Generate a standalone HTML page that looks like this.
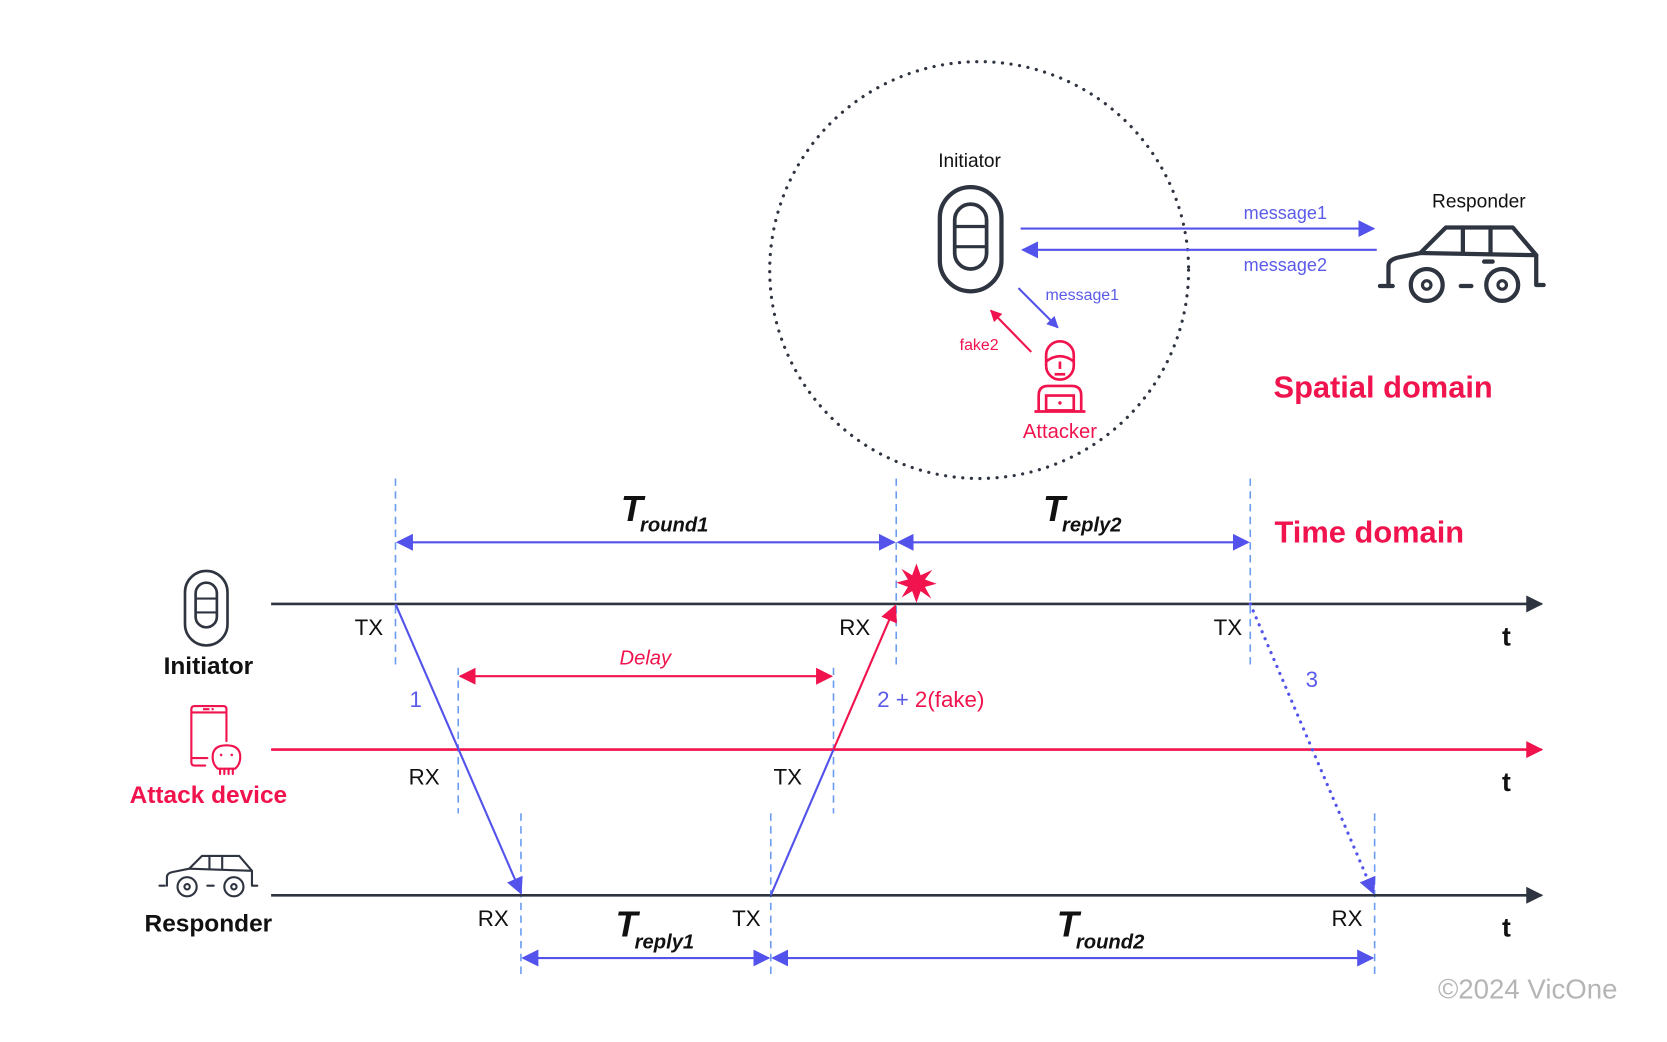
<!DOCTYPE html>
<html><head><meta charset="utf-8"><style>
html,body{margin:0;padding:0;background:#fff;}
svg{display:block;}
text{font-family:"Liberation Sans","DejaVu Sans",sans-serif;}
</style></head><body>
<svg width="1667" height="1042" viewBox="0 0 1568 980" preserveAspectRatio="none" xmlns="http://www.w3.org/2000/svg">
<defs>
<marker id="abL" viewBox="0 0 10 10" refX="9" refY="5" markerWidth="16" markerHeight="16" orient="auto-start-reverse" markerUnits="userSpaceOnUse"><path d="M0,0L10,5L0,10z" fill="#5353ec"/></marker>
<marker id="arL" viewBox="0 0 10 10" refX="9" refY="5" markerWidth="16" markerHeight="16" orient="auto-start-reverse" markerUnits="userSpaceOnUse"><path d="M0,0L10,5L0,10z" fill="#f0134d"/></marker>
<marker id="arS" viewBox="0 0 10 10" refX="9" refY="5" markerWidth="11" markerHeight="11" orient="auto-start-reverse" markerUnits="userSpaceOnUse"><path d="M0,0L10,5L0,10z" fill="#f0134d"/></marker>
<marker id="abS" viewBox="0 0 10 10" refX="9" refY="5" markerWidth="11" markerHeight="11" orient="auto-start-reverse" markerUnits="userSpaceOnUse"><path d="M0,0L10,5L0,10z" fill="#5353ec"/></marker>
<marker id="ak" viewBox="0 0 10 10" refX="9" refY="5" markerWidth="16" markerHeight="16" orient="auto" markerUnits="userSpaceOnUse"><path d="M0,0L10,5L0,10z" fill="#2f3540"/></marker>
</defs>

<ellipse cx="921" cy="254" rx="197" ry="196" fill="none" stroke="#2f3540" stroke-width="3" stroke-dasharray="0.1 8" stroke-linecap="round"/>

<text x="912" y="157" font-size="18" text-anchor="middle" fill="#111">Initiator</text>
<rect x="884" y="176" width="58" height="98" rx="29" fill="none" stroke="#2f3540" stroke-width="4"/>
<rect x="898" y="192" width="30" height="61" rx="15" fill="none" stroke="#2f3540" stroke-width="3.5"/>
<line x1="898" y1="213" x2="928" y2="213" stroke="#2f3540" stroke-width="3"/>
<line x1="898" y1="232" x2="928" y2="232" stroke="#2f3540" stroke-width="3"/>

<line x1="960" y1="215" x2="1292" y2="215" stroke="#5353ec" stroke-width="2" marker-end="url(#abL)"/>
<line x1="1295" y1="235" x2="962" y2="235" stroke="#5353ec" stroke-width="2" marker-end="url(#abL)"/>
<text x="1209" y="206" font-size="17" text-anchor="middle" fill="#5b5bea">message1</text>
<text x="1209" y="255" font-size="17" text-anchor="middle" fill="#5b5bea">message2</text>
<text x="1391" y="195" font-size="18" text-anchor="middle" fill="#111">Responder</text>

<g fill="none" stroke="#2f3540" stroke-width="4" stroke-linecap="round" stroke-linejoin="round">
<path d="M1306,269 L1306,250 Q1306,244 1316,242 L1336,238 L1360,214 L1423,214 L1445,240 L1445,268 L1452,268"/>
<line x1="1376" y1="214" x2="1376" y2="238"/><line x1="1402" y1="214" x2="1402" y2="238"/>
<line x1="1336" y1="238" x2="1445" y2="240"/>
<line x1="1298" y1="269" x2="1310" y2="269"/><line x1="1374" y1="269" x2="1384" y2="269"/>
<circle cx="1342" cy="268" r="15"/><circle cx="1413" cy="268" r="15"/>
<line x1="1396" y1="246" x2="1404" y2="246"/>
</g>
<circle cx="1342" cy="268" r="4" fill="none" stroke="#2f3540" stroke-width="3"/>
<circle cx="1413" cy="268" r="4" fill="none" stroke="#2f3540" stroke-width="3"/>

<line x1="958" y1="271" x2="995" y2="308" stroke="#5353ec" stroke-width="2" marker-end="url(#abS)"/>
<text x="1018" y="282" font-size="15" text-anchor="middle" fill="#5b5bea">message1</text>
<line x1="970" y1="331" x2="932" y2="292" stroke="#f0134d" stroke-width="2" marker-end="url(#arS)"/>
<text x="921" y="329" font-size="15" text-anchor="middle" fill="#f0134d">fake2</text>

<g fill="none" stroke="#f0134d" stroke-width="2.5">
<rect x="984" y="321" width="26" height="36" rx="13"/>
<path d="M984,340 Q997,330 1010,340"/>
<line x1="997" y1="340" x2="997" y2="347"/><line x1="992" y1="352" x2="1002" y2="352"/>
<path d="M977,386 L977,372 Q977,363 986,363 L1008,363 Q1017,363 1017,372 L1017,386"/>
<rect x="984" y="372" width="26" height="14"/>
<line x1="973" y1="387" x2="1021" y2="387"/>
</g>
<circle cx="997" cy="379" r="1.6" fill="#f0134d"/>
<text x="997" y="412" font-size="19" text-anchor="middle" fill="#f0134d">Attacker</text>

<text x="1301" y="374" font-size="29" text-anchor="middle" fill="#f0134d" font-weight="bold">Spatial domain</text>
<text x="1288" y="510" font-size="29" text-anchor="middle" fill="#f0134d" font-weight="bold">Time domain</text>

<g stroke="#6b9cf2" stroke-width="1.5" stroke-dasharray="7 5">
<line x1="372" y1="450" x2="372" y2="628"/>
<line x1="843" y1="450" x2="843" y2="628"/>
<line x1="1176" y1="450" x2="1176" y2="628"/>
<line x1="431" y1="628" x2="431" y2="765"/>
<line x1="784" y1="628" x2="784" y2="765"/>
<line x1="490" y1="765" x2="490" y2="920"/>
<line x1="725" y1="765" x2="725" y2="920"/>
<line x1="1293" y1="765" x2="1293" y2="920"/>
</g>

<line x1="374" y1="510" x2="841" y2="510" stroke="#5353ec" stroke-width="2" marker-start="url(#abL)" marker-end="url(#abL)"/>
<line x1="845" y1="510" x2="1174" y2="510" stroke="#5353ec" stroke-width="2" marker-start="url(#abL)" marker-end="url(#abL)"/>
<line x1="492" y1="901" x2="723" y2="901" stroke="#5353ec" stroke-width="2" marker-start="url(#abL)" marker-end="url(#abL)"/>
<line x1="727" y1="901" x2="1291" y2="901" stroke="#5353ec" stroke-width="2" marker-start="url(#abL)" marker-end="url(#abL)"/>
<g font-style="italic" font-weight="bold" fill="#111">
<text x="584" y="490" font-size="34">T</text><text x="602" y="500" font-size="19">round1</text>
<text x="981" y="490" font-size="34">T</text><text x="999" y="500" font-size="19">reply2</text>
<text x="579" y="881" font-size="34">T</text><text x="597" y="892" font-size="19">reply1</text>
<text x="994" y="881" font-size="34">T</text><text x="1012" y="892" font-size="19">round2</text>
</g>

<line x1="255" y1="568" x2="1450" y2="568" stroke="#2f3540" stroke-width="2.5" marker-end="url(#ak)"/>
<line x1="255" y1="705" x2="1450" y2="705" stroke="#f0134d" stroke-width="2.5" marker-end="url(#arL)"/>
<line x1="255" y1="842" x2="1450" y2="842" stroke="#2f3540" stroke-width="2.5" marker-end="url(#ak)"/>
<g font-size="25" font-weight="bold" fill="#111" text-anchor="middle">
<text x="1417" y="607">t</text><text x="1417" y="744">t</text><text x="1417" y="881">t</text>
</g>

<g font-size="21" fill="#111" text-anchor="middle">
<text x="347" y="597">TX</text><text x="804" y="597">RX</text><text x="1155" y="597">TX</text>
<text x="399" y="738">RX</text><text x="741" y="738">TX</text>
<text x="464" y="871">RX</text><text x="702" y="871">TX</text><text x="1267" y="871">RX</text>
</g>

<line x1="372" y1="568" x2="490" y2="840" stroke="#5353ec" stroke-width="2" marker-end="url(#abL)"/>
<text x="391" y="665" font-size="21" fill="#5b5bea" text-anchor="middle">1</text>
<line x1="725" y1="842" x2="784" y2="705" stroke="#5353ec" stroke-width="2"/>
<line x1="784" y1="705" x2="842" y2="570" stroke="#f0134d" stroke-width="2" marker-end="url(#arL)"/>
<text x="825" y="665" font-size="21"><tspan fill="#5b5bea">2 + </tspan><tspan fill="#f0134d">2(fake)</tspan></text>
<line x1="1176" y1="568" x2="1292" y2="840" stroke="#5353ec" stroke-width="3" stroke-dasharray="0.1 7" stroke-linecap="round" marker-end="url(#abL)"/>
<text x="1234" y="646" font-size="21" fill="#5b5bea" text-anchor="middle">3</text>

<line x1="433" y1="636" x2="782" y2="636" stroke="#f0134d" stroke-width="2" marker-start="url(#arL)" marker-end="url(#arL)"/>
<text x="607" y="625" font-size="19" font-style="italic" fill="#f0134d" text-anchor="middle">Delay</text>

<polygon fill="#f0134d" points="862,530 866,541 877,536 870,545 881,549 870,552 876,563 866,556 862,567 858,556 848,562 854,552 843,548 854,545 848,535 858,541"/>

<rect x="174" y="537" width="40" height="70" rx="20" fill="none" stroke="#2f3540" stroke-width="2.5"/>
<rect x="184" y="548" width="20" height="42" rx="10" fill="none" stroke="#2f3540" stroke-width="2.5"/>
<line x1="184" y1="563" x2="204" y2="563" stroke="#2f3540" stroke-width="2"/>
<line x1="184" y1="576" x2="204" y2="576" stroke="#2f3540" stroke-width="2"/>
<text x="196" y="634" font-size="23" text-anchor="middle" fill="#111" font-weight="bold">Initiator</text>

<g fill="none" stroke="#f0134d" stroke-width="2" stroke-linecap="round">
<path d="M193,720 L183,720 Q180,720 180,717 L180,667 Q180,664 183,664 L210,664 Q213,664 213,667 L213,697"/>
<line x1="180" y1="670" x2="213" y2="670"/>
<line x1="180" y1="713" x2="195" y2="713"/>
<path d="M205,723 Q200,719 200,712 Q200,701 213,701 Q226,701 226,712 Q226,719 221,723 Z"/>
<line x1="207" y1="723" x2="207" y2="728"/><line x1="211" y1="723" x2="211" y2="728"/><line x1="215" y1="723" x2="215" y2="728"/><line x1="219" y1="723" x2="219" y2="728"/>
</g>
<rect x="191" y="666" width="6" height="2" fill="#f0134d"/><rect x="199" y="666" width="2" height="2" fill="#f0134d"/>
<circle cx="208" cy="710" r="1.2" fill="#f0134d"/><circle cx="218" cy="710" r="1.2" fill="#f0134d"/>
<text x="196" y="755" font-size="23" text-anchor="middle" fill="#f0134d" font-weight="bold">Attack device</text>

<g fill="none" stroke="#2f3540" stroke-width="2" stroke-linecap="round" stroke-linejoin="round">
<path d="M157,833 L157,825 Q157,821 163,820 L178,817 L190,805 L225,805 L237,819 L237,833 L242,833"/>
<line x1="197" y1="805" x2="197" y2="817"/><line x1="209" y1="805" x2="209" y2="817"/>
<line x1="178" y1="817" x2="237" y2="819"/>
<line x1="150" y1="833" x2="155" y2="833"/><line x1="195" y1="833" x2="201" y2="833"/>
<circle cx="176" cy="834" r="9"/><circle cx="220" cy="834" r="9"/>
<circle cx="176" cy="834" r="2.5"/><circle cx="220" cy="834" r="2.5"/>
</g>
<text x="196" y="876" font-size="23" text-anchor="middle" fill="#111" font-weight="bold">Responder</text>

<text x="1437" y="939" font-size="26" text-anchor="middle" fill="#b5b5b5">©2024 VicOne</text>
</svg>
</body></html>
